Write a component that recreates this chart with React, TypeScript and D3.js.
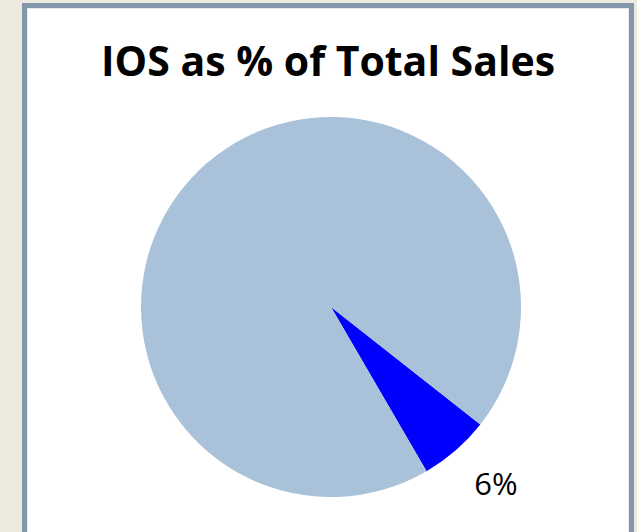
import React from "react";
import * as d3 from "d3";

const labels = ["IOS", "Other"];
const values = [6, 94];
const colors = ["#0000FF", "#A9C2DA"];
const title = "IOS as % of Total Sales";

export default function App() {
  const W = 637, H = 532;
  const cx = 331, cy = 307, r = 190;
  const start = (128.2 * Math.PI) / 180;
  const pie = d3.pie<number>().sort(null).value((d) => d).startAngle(start).endAngle(start + 2 * Math.PI);
  const arcs = pie(values);
  const arc = d3.arc<d3.PieArcDatum<number>>().innerRadius(0).outerRadius(r);
  const total = d3.sum(values);
  const a0 = arcs[0];
  const mid = (a0.startAngle + a0.endAngle) / 2;
  const lr = r + 40;
  const lx = cx + Math.sin(mid) * lr + 14;
  const ly = cy - Math.cos(mid) * lr + 6;
  return (
    <svg width={W} height={H} style={{ position: "fixed", left: 0, top: 0 }}>
      <rect x={0} y={0} width={W} height={H} fill="#EDEBE0" />
      <rect x={24.5} y={5.5} width={607} height={540} fill="#FFFFFF" stroke="#8496AB" strokeWidth={5} />
      <rect x={27.5} y={8.5} width={601} height={540} fill="none" stroke="#E3E8EE" strokeWidth={1} />
      <text x={328} y={76} textAnchor="middle" fontFamily="'Open Sans', sans-serif" fontWeight="bold" fontSize={41} fill="#000">
        {title}
      </text>
      <g transform={`translate(${cx},${cy})`}>
        {arcs.map((a, i) => (
          <path key={labels[i]} d={arc(a) || ""} fill={colors[i]} />
        ))}
      </g>
      <text x={lx} y={ly} textAnchor="middle" dominantBaseline="middle" fontFamily="'Open Sans', sans-serif" fontSize={31} fill="#000">
        {`${Math.round((values[0] / total) * 100)}%`}
      </text>
    </svg>
  );
}
